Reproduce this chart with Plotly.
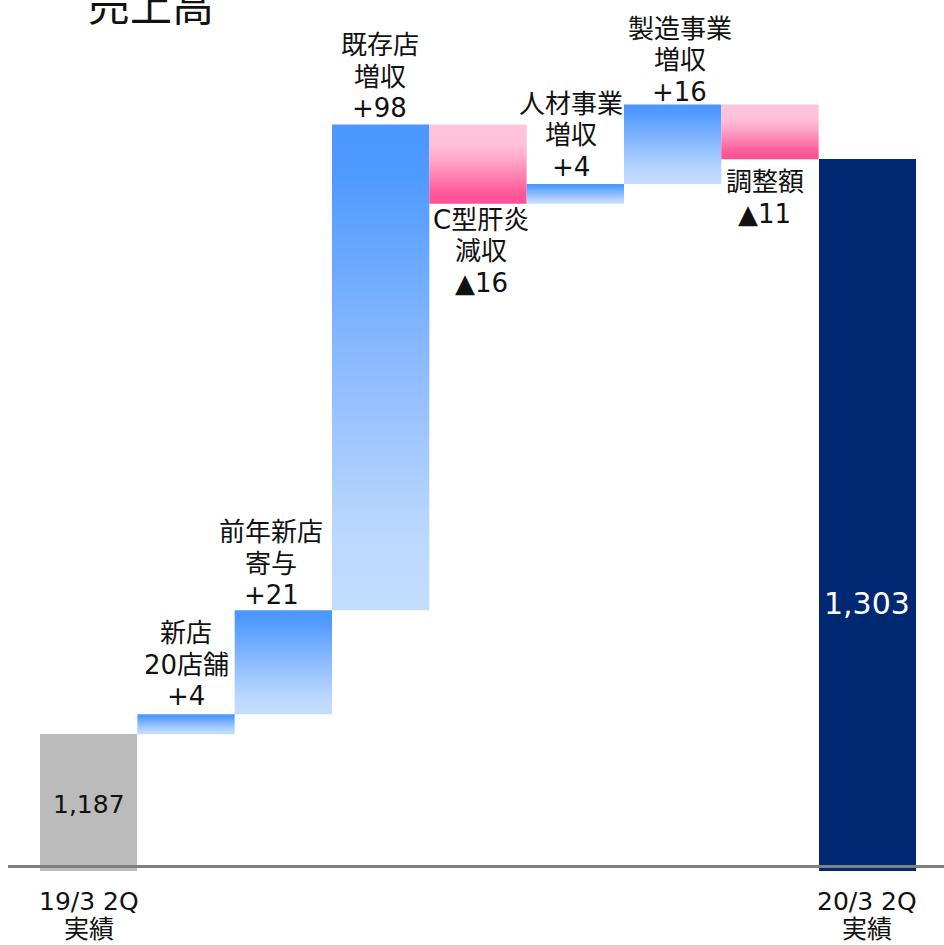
import plotly.graph_objects as go

# ---- data -------------------------------------------------------------
start_label = ["19/3 2Q", "実績"]
end_label = ["20/3 2Q", "実績"]
start_value = 1187
end_value = 1303

step_labels = [
    ["新店", "20店舗"],
    ["前年新店", "寄与"],
    ["既存店", "増収"],
    ["C型肝炎", "減収"],
    ["人材事業", "増収"],
    ["製造事業", "増収"],
    ["調整額"],
]
step_values = [4, 21, 98, -16, 4, 16, -11]

title_text = "売上高"

# ---- style ------------------------------------------------------------
FONT = "DejaVu Sans, Noto Sans CJK JP, sans-serif"
TEXT = "#111111"
GRAY = "#BBBBBB"
NAVY = "#002873"
UP_SCALE = [[0.0, "#C3DDFE"], [0.15, "#BCD8FE"], [0.55, "#86B7FF"],
            [0.9, "#4E9AFF"], [1.0, "#4A97FF"]]
DOWN_SCALE = [[0.0, "#FF4E92"], [0.15, "#FF5C9A"], [0.55, "#FFA6C8"],
              [0.75, "#FFC0DA"], [1.0, "#FFC3DC"]]

Y_RANGE = [1159.4, 1335.1]
X_RANGE = [-0.829, 8.788]
AXIS_Y = 1160.3
LINE_GAP = 31.5
LABEL_SIZE = 26

# per-bar label placement (pixels)
ABOVE_GAP = {1: 18, 2: 15, 3: 16, 5: 17, 6: 13}
BELOW_GAP = {4: -16, 7: -23}
LABEL_XSHIFT = {2: -12, 3: -1, 4: 3, 5: -4, 6: 7, 7: -5}

fig = go.Figure()

n_steps = len(step_values)
end_x = n_steps + 1

# totals: plain bars drawn from zero, cut by the axis range
fig.add_trace(go.Bar(x=[0], y=[start_value], width=1.0,
                     marker=dict(color=GRAY, line=dict(width=0)),
                     hoverinfo="skip", showlegend=False))
fig.add_trace(go.Bar(x=[end_x], y=[end_value], width=1.0,
                     marker=dict(color=NAVY, line=dict(width=0)),
                     hoverinfo="skip", showlegend=False))

annotations = []


def add_lines(x, y, lines, first_shift, step, size=LABEL_SIZE, color=TEXT, xshift=0):
    for k, line in enumerate(lines):
        annotations.append(dict(
            x=x, y=y, xref="x", yref="y", text=line, showarrow=False,
            xanchor="center", yanchor="middle",
            yshift=first_shift + k * step, xshift=xshift,
            font=dict(family=FONT, size=size, color=color)))


# step bars with vertical gradient fills
level = start_value
for i, (val, lab) in enumerate(zip(step_values, step_labels)):
    xc = i + 1
    lo, hi = sorted([level, level + val])
    fig.add_trace(go.Scatter(
        x=[xc - 0.5, xc + 0.5, xc + 0.5, xc - 0.5, xc - 0.5],
        y=[lo, lo, hi, hi, lo],
        mode="lines", line=dict(width=0), fill="toself",
        fillgradient=dict(type="vertical",
                          colorscale=UP_SCALE if val > 0 else DOWN_SCALE),
        hoverinfo="skip", showlegend=False))
    value_text = f"+{val}" if val > 0 else f"▲{abs(val)}"
    lines = lab + [value_text]
    if val > 0:
        # stacked above the bar, last line closest to the top edge
        add_lines(xc, hi, lines[::-1], ABOVE_GAP.get(xc, 16), LINE_GAP,
                  xshift=LABEL_XSHIFT.get(xc, 0))
    else:
        add_lines(xc, lo, lines, BELOW_GAP.get(xc, -18), -LINE_GAP,
                  xshift=LABEL_XSHIFT.get(xc, 0))
    level += val

# value labels inside the total bars
annotations.append(dict(x=0, y=start_value, xref="x", yref="y",
                        text=f"{start_value:,}", showarrow=False,
                        yanchor="middle", yshift=-70,
                        font=dict(family=FONT, size=25, color=TEXT)))
annotations.append(dict(x=end_x, y=end_value, xref="x", yref="y",
                        text=f"{end_value:,}", showarrow=False,
                        yanchor="middle", yshift=-444,
                        font=dict(family=FONT, size=30, color="#FFFFFF")))

# category labels under the axis for the two totals
for xc, lab in ((0, start_label), (end_x, end_label)):
    add_lines(xc, Y_RANGE[0], lab, -30, -28, size=25)

# chart title
annotations.append(dict(x=(151 - 8) / 936, y=1, xref="paper", yref="paper",
                        text=title_text, showarrow=False,
                        xanchor="center", yanchor="middle", yshift=-6,
                        font=dict(family=FONT, size=42, color=TEXT)))

fig.update_layout(
    width=944, height=945,
    margin=dict(l=8, r=0, t=0, b=74, pad=0),
    paper_bgcolor="white", plot_bgcolor="white",
    barmode="overlay", bargap=0,
    showlegend=False,
    xaxis=dict(range=X_RANGE, visible=False, fixedrange=True),
    yaxis=dict(range=Y_RANGE, visible=False, fixedrange=True),
    annotations=annotations,
    shapes=[dict(type="line", xref="paper", x0=0, x1=1, yref="y",
                 y0=AXIS_Y, y1=AXIS_Y, layer="above",
                 line=dict(color="#7F7F7F", width=3))],
)

fig.write_html("out.html", config={"displayModeBar": False})
